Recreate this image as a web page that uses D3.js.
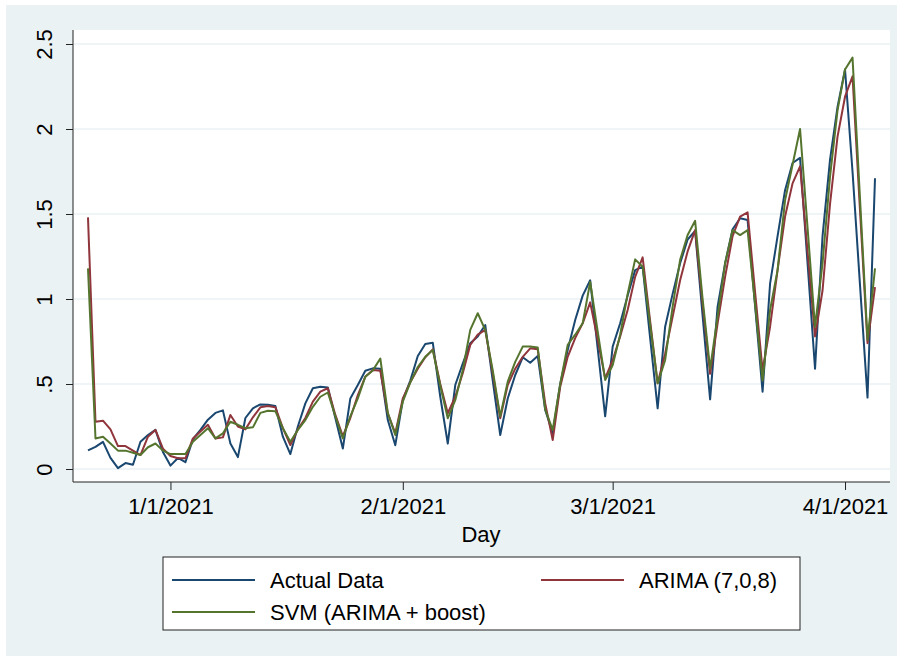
<!DOCTYPE html>
<html>
<head>
<meta charset="utf-8">
<script src="https://cdn.jsdelivr.net/npm/d3@7"></script>
<style>
  body { margin: 0; background: #fff; }
  text { font-family: "Liberation Sans", Arial, sans-serif; fill: #000; }
</style>
</head>
<body>
<div id="chart"></div>
<script>
// first day of the series, one value per day after it
var startDay = new Date(Date.UTC(2020, 11, 21))

var actualData = [0.11, 0.13, 0.16, 0.065, 0.005, 0.035, 0.025, 0.16, 0.20, 0.23,
    0.10, 0.02, 0.065, 0.04, 0.175, 0.23, 0.29, 0.33, 0.345, 0.15,
    0.07, 0.30, 0.357, 0.38, 0.378, 0.37, 0.19, 0.088, 0.25, 0.386,
    0.475, 0.484, 0.48, 0.30, 0.12, 0.415, 0.494, 0.578, 0.592, 0.59,
    0.288, 0.14, 0.405, 0.52, 0.665, 0.735, 0.743, 0.425, 0.15, 0.494,
    0.62, 0.74, 0.78, 0.847, 0.52, 0.20, 0.415, 0.553, 0.657, 0.625,
    0.665, 0.347, 0.21, 0.50, 0.70, 0.876, 1.02, 1.11, 0.71, 0.31,
    0.72, 0.857, 1.02, 1.17, 1.19, 0.77, 0.357, 0.837, 1.03, 1.21,
    1.35, 1.40, 0.90, 0.41, 0.955, 1.21, 1.41, 1.475, 1.465, 0.96,
    0.455, 1.09, 1.37, 1.64, 1.80, 1.83, 1.21, 0.59, 1.37, 1.82,
    2.13, 2.35, 1.75, 1.08, 0.42, 1.71]

var arimaData = [1.48, 0.278, 0.284, 0.233, 0.135, 0.135, 0.108, 0.082, 0.19, 0.23,
    0.12, 0.076, 0.063, 0.063, 0.18, 0.22, 0.26, 0.18, 0.186, 0.318,
    0.25, 0.233, 0.304, 0.363, 0.37, 0.363, 0.24, 0.141, 0.233, 0.30,
    0.396, 0.455, 0.475, 0.318, 0.194, 0.30, 0.435, 0.543, 0.582, 0.578,
    0.328, 0.21, 0.415, 0.51, 0.59, 0.657, 0.704, 0.50, 0.328, 0.425,
    0.563, 0.73, 0.79, 0.818, 0.563, 0.298, 0.494, 0.59, 0.66, 0.71,
    0.704, 0.386, 0.17, 0.484, 0.66, 0.77, 0.857, 0.98, 0.76, 0.533,
    0.64, 0.78, 0.935, 1.13, 1.245, 0.87, 0.504, 0.68, 0.896, 1.11,
    1.28, 1.405, 0.97, 0.56, 0.857, 1.13, 1.37, 1.485, 1.51, 1.04,
    0.58, 0.837, 1.17, 1.485, 1.68, 1.78, 1.28, 0.78, 1.05, 1.56,
    1.955, 2.19, 2.31, 1.52, 0.74, 1.07]

var svmData = [1.18, 0.18, 0.19, 0.15, 0.108, 0.108, 0.096, 0.082, 0.128, 0.15,
    0.108, 0.088, 0.088, 0.088, 0.16, 0.20, 0.24, 0.18, 0.21, 0.278,
    0.26, 0.24, 0.245, 0.33, 0.343, 0.34, 0.24, 0.16, 0.23, 0.288,
    0.366, 0.425, 0.45, 0.31, 0.18, 0.31, 0.415, 0.543, 0.58, 0.65,
    0.33, 0.20, 0.396, 0.51, 0.60, 0.66, 0.70, 0.49, 0.298, 0.405,
    0.582, 0.818, 0.916, 0.818, 0.58, 0.31, 0.514, 0.63, 0.72, 0.72,
    0.715, 0.35, 0.23, 0.50, 0.73, 0.79, 0.857, 1.10, 0.81, 0.524,
    0.61, 0.79, 1.03, 1.233, 1.19, 0.85, 0.504, 0.64, 0.955, 1.23,
    1.376, 1.46, 1.0, 0.59, 0.896, 1.21, 1.405, 1.376, 1.405, 0.97,
    0.52, 0.935, 1.17, 1.58, 1.79, 2.00, 1.42, 0.837, 1.21, 1.72,
    2.11, 2.35, 2.42, 1.59, 0.76, 1.18]

var yTicks = [0, 0.5, 1, 1.5, 2, 2.5]
var yTickLabels = ["0", ".5", "1", "1.5", "2", "2.5"]
var xTicks = [new Date(Date.UTC(2021, 0, 1)), new Date(Date.UTC(2021, 1, 1)),
    new Date(Date.UTC(2021, 2, 1)), new Date(Date.UTC(2021, 3, 1))]
var xTickLabels = ["1/1/2021", "2/1/2021", "3/1/2021", "4/1/2021"]

var seriesNames = ["Actual Data", "ARIMA (7,0,8)", "SVM (ARIMA + boost)"]
var seriesColors = ["#1a476f", "#90353b", "#55752f"]

var width = 901, height = 660

var svg = d3.select('#chart').append('svg')
    .attr('width', width)
    .attr('height', height)

// outer stata-like background
svg.append('rect')
    .attr('x', 6).attr('y', 5)
    .attr('width', width - 10).attr('height', height - 9)
    .attr('fill', '#eaf2f3')

// plot region
var plotLeft = 73, plotRight = 890, plotTop = 30, plotBottom = 482

svg.append('rect')
    .attr('x', plotLeft).attr('y', plotTop)
    .attr('width', plotRight - plotLeft).attr('height', plotBottom - plotTop)
    .attr('fill', '#fff')

var x = d3.scaleUtc()
    .domain([new Date(Date.UTC(2020, 11, 19)), new Date(Date.UTC(2021, 3, 7))])
    .range([plotLeft, plotRight])

var y = d3.scaleLinear()
    .domain([0, 2.5])
    .range([469, 44])

// grid lines
svg.append('g').selectAll('line')
    .data(yTicks)
    .enter().append('line')
        .attr('x1', plotLeft + 1).attr('x2', plotRight)
        .attr('y1', d => y(d)).attr('y2', d => y(d))
        .attr('stroke', '#eaf2f3')
        .attr('stroke-width', 1.5)

// y axis, labels turned like stata does
var yAxis = d3.axisLeft(y)
    .tickValues(yTicks)
    .tickSize(7)
    .tickFormat((d, i) => yTickLabels[i])

var yG = svg.append('g')
    .attr('transform', 'translate(' + plotLeft + ',0)')
    .call(yAxis)
yG.select('.domain').attr('d', 'M0,' + plotTop + 'V' + plotBottom).attr('stroke', '#222')
yG.selectAll('.tick line').attr('stroke', '#222')
yG.selectAll('.tick text')
    .attr('font-size', 22)
    .attr('font-family', '"Liberation Sans", Arial, sans-serif')
    .attr('text-anchor', 'middle')
    .attr('x', 0).attr('y', 0).attr('dy', 0)
    .attr('transform', 'translate(-21,0) rotate(-90)')

// x axis
var xAxis = d3.axisBottom(x)
    .tickValues(xTicks)
    .tickSize(8)
    .tickPadding(8)
    .tickFormat((d, i) => xTickLabels[i])

var xG = svg.append('g')
    .attr('transform', 'translate(0,' + plotBottom + ')')
    .call(xAxis)
xG.select('.domain').attr('d', 'M' + plotLeft + ',0H' + plotRight).attr('stroke', '#222')
xG.selectAll('.tick line').attr('stroke', '#222')
xG.selectAll('.tick text')
    .attr('font-size', 22)
    .attr('font-family', '"Liberation Sans", Arial, sans-serif')

svg.append('text')
    .attr('x', 481).attr('y', 542)
    .attr('text-anchor', 'middle')
    .attr('font-size', 22)
    .text('Day')

// lines
var allSeries = [actualData, arimaData, svmData]
var line = d3.line()
    .x((d, i) => x(d3.utcDay.offset(startDay, i)))
    .y(d => y(d))

svg.append('g').selectAll('path')
    .data(allSeries)
    .enter().append('path')
        .attr('d', d => line(d))
        .attr('fill', 'none')
        .attr('stroke', (d, i) => seriesColors[i])
        .attr('stroke-width', 2)
        .attr('stroke-linejoin', 'round')

// legend
var legend = svg.append('g')
legend.append('rect')
    .attr('x', 163).attr('y', 557)
    .attr('width', 637).attr('height', 73)
    .attr('fill', '#fff')
    .attr('stroke', '#222')

var legendPos = [[172, 580], [541, 580], [172, 612]]
legendPos.forEach((p, i) => {
    legend.append('line')
        .attr('x1', p[0]).attr('x2', p[0] + 83)
        .attr('y1', p[1]).attr('y2', p[1])
        .attr('stroke', seriesColors[i])
        .attr('stroke-width', 2)
    legend.append('text')
        .attr('x', p[0] + 98).attr('y', p[1] + 8)
        .attr('font-size', 22)
        .text(seriesNames[i])
})
</script>
</body>
</html>
